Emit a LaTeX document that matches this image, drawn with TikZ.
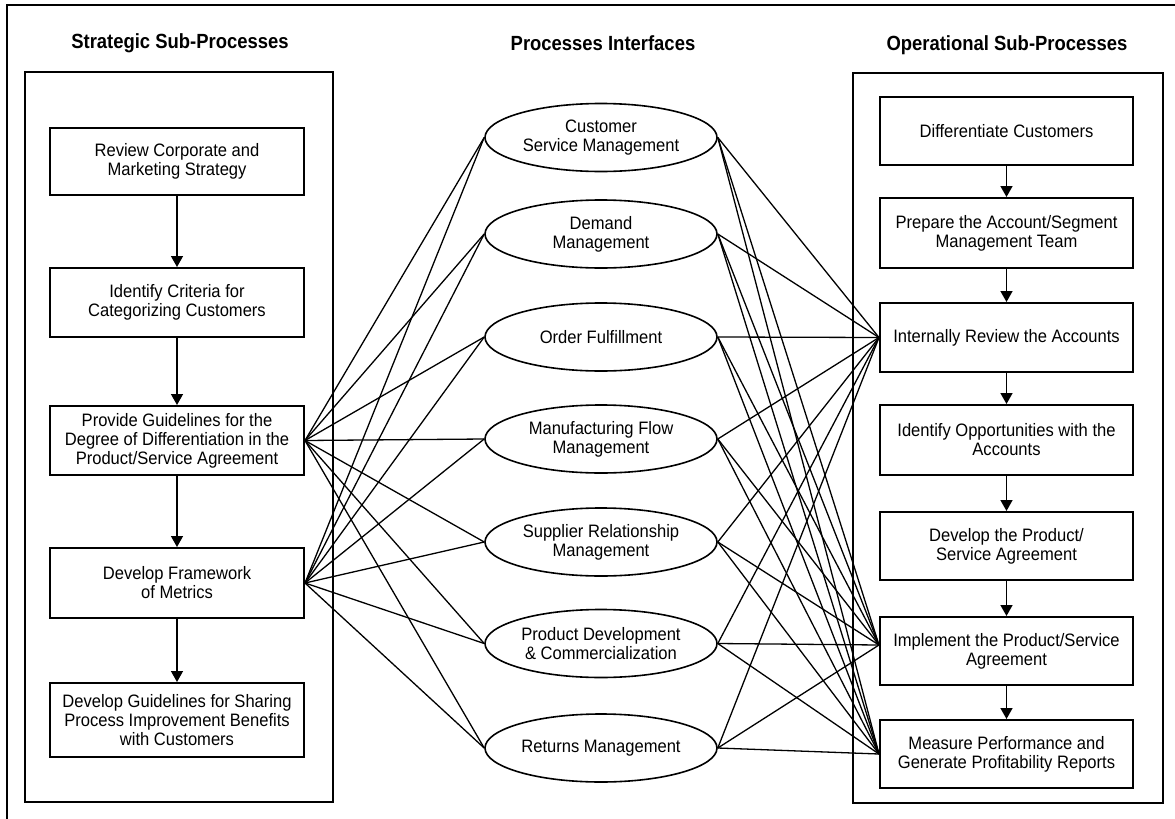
\documentclass[tikz,border=0pt]{standalone}
\usepackage{fontspec}
\setmainfont{Liberation Sans}[FakeStretch=0.92]
\newfontfamily\titlefont{Liberation Sans}[FakeStretch=0.9]
\usetikzlibrary{arrows.meta,shapes.geometric}
\begin{document}
\begin{tikzpicture}[x=1pt,y=-1pt,
  txt/.style={font=\fontsize{18}{19}\selectfont, align=center},
  stepbox/.style={draw, line width=2pt, minimum width=254pt, inner sep=0pt, txt},
  ell/.style={ellipse, draw, line width=1.6pt, minimum width=232pt, minimum height=68pt, inner sep=0pt, txt},
  panel/.style={draw, line width=2pt, inner sep=0pt},
  title/.style={font=\titlefont\bfseries\fontsize{20.5}{24}\selectfont},
  flow/.style={line width=1.5pt, -{Triangle[width=12pt,length=11pt]}},
  link/.style={line width=1.3pt}]
\useasboundingbox (0,0) rectangle (1175,819);
% outer frame (top and left)
\draw[line width=2pt] (7,819) -- (7,5) -- (1175,5);
% titles
\node[title] (t1) at (180,43) {Strategic Sub-Processes};
\node[title] (t2) at (603,43) {Processes Interfaces};
\node[title] (t3) at (1007,45) {Operational Sub-Processes};
% panels
\node[panel, minimum width=308pt, minimum height=730pt] (pl) at (179,437) {};
\node[panel, minimum width=310pt, minimum height=730pt] (pr) at (1008,438) {};
% left boxes
\node[stepbox, minimum height=67pt] (b1) at (177,161.5) {Review Corporate and\\Marketing Strategy};
\node[stepbox, minimum height=69pt] (b2) at (177,302.5) {Identify Criteria for\\Categorizing Customers};
\node[stepbox, minimum height=69pt] (b3) at (177,440.5) {Provide Guidelines for the\\Degree of Differentiation in the\\Product/Service Agreement};
\node[stepbox, minimum height=70pt] (b4) at (177,583) {Develop Framework\\of Metrics};
\node[stepbox, minimum height=74pt] (b5) at (177,720) {Develop Guidelines for Sharing\\Process Improvement Benefits\\with Customers};
% right boxes
\node[stepbox, minimum width=253pt, minimum height=68pt] (r1) at (1006.5,131) {Differentiate Customers};
\node[stepbox, minimum width=253pt, minimum height=70pt] (r2) at (1006.5,233) {Prepare the Account/Segment\\Management Team};
\node[stepbox, minimum width=253pt, minimum height=69pt] (r3) at (1006.5,337.5) {Internally Review the Accounts};
\node[stepbox, minimum width=253pt, minimum height=70pt] (r4) at (1006.5,440) {Identify Opportunities with the\\Accounts};
\node[stepbox, minimum width=253pt, minimum height=68pt] (r5) at (1006.5,546) {Develop the Product/\\Service Agreement};
\node[stepbox, minimum width=253pt, minimum height=68pt] (r6) at (1006.5,651) {Implement the Product/Service\\Agreement};
\node[stepbox, minimum width=253pt, minimum height=68pt] (r7) at (1006.5,754) {Measure Performance and\\Generate Profitability Reports};
% ellipses
\node[ell] (e1) at (601,137.5) {Customer\\Service Management};
\node[ell] (e2) at (601,234) {Demand\\Management};
\node[ell] (e3) at (601,337) {Order Fulfillment};
\node[ell] (e4) at (601,439) {Manufacturing Flow\\Management};
\node[ell] (e5) at (601,542) {Supplier Relationship\\Management};
\node[ell] (e6) at (601,643.5) {Product Development\\\& Commercialization};
\node[ell] (e7) at (601,748) {Returns Management};
% flow arrows
\draw[flow] (b1) -- (b2);
\draw[flow] (b2) -- (b3);
\draw[flow] (b3) -- (b4);
\draw[flow] (b4) -- (b5);
\draw[flow] (r1) -- (r2);
\draw[flow] (r2) -- (r3);
\draw[flow] (r3) -- (r4);
\draw[flow] (r4) -- (r5);
\draw[flow] (r5) -- (r6);
\draw[flow] (r6) -- (r7);
% interface links
\foreach \e in {e1,e2,e3,e4,e5,e6,e7} {
  \draw[link] (b3.east) -- (\e.west);
  \draw[link] (b4.east) -- (\e.west);
  \draw[link] (\e.east) -- (r3.west);
  \draw[link] (\e.east) -- ([yshift=6pt]r6.west);
  \draw[link] (\e.east) -- (r7.west);
}
\end{tikzpicture}
\end{document}
